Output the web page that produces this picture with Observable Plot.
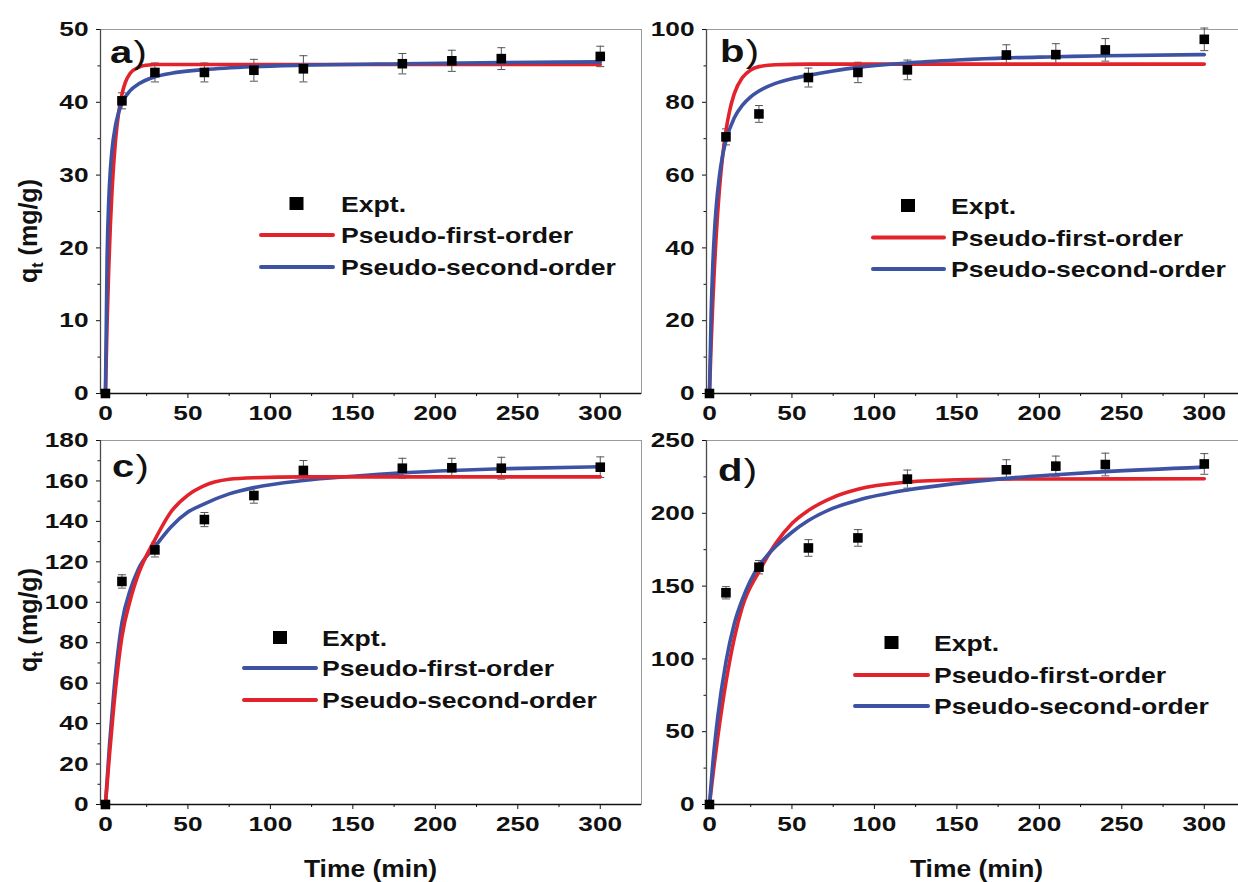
<!DOCTYPE html>
<html><head><meta charset="utf-8">
<script src="https://cdn.jsdelivr.net/npm/d3@7"></script>
<script src="https://cdn.jsdelivr.net/npm/@observablehq/plot@0.6"></script>
<style>
html,body{margin:0;padding:0;background:#fff;}
#chart{position:relative;width:1238px;height:882px;overflow:hidden;background:#fff;}
#chart svg{position:absolute;}
</style></head><body><div id="chart"></div>
<script>
// ---------- data ----------
const times = [0, 10, 30, 60, 90, 120, 180, 210, 240, 300];

const expA = [0, 40.2, 44.1, 44.1, 44.4, 44.6, 45.3, 45.7, 46.0, 46.3];
const errA = [0, 1.1, 1.3, 1.3, 1.5, 1.8, 1.4, 1.45, 1.5, 1.4];
const expB = [0, 70.5, 76.8, 86.8, 88.2, 88.9, 93.0, 93.1, 94.4, 97.3];
const errB = [0, 2.2, 2.3, 2.6, 2.8, 2.7, 2.8, 3.0, 3.1, 3.1];
const expC = [0, 110.3, 125.9, 140.9, 152.8, 165.2, 166.3, 166.5, 166.3, 166.8];
const errC = [0, 3.3, 3.5, 3.5, 3.8, 4.9, 4.9, 4.7, 5.4, 5.1];
const expD = [0, 145.4, 163.0, 176.2, 183.1, 223.5, 229.9, 232.4, 233.5, 233.9];
const errD = [0, 4.2, 4.6, 5.7, 5.7, 6.2, 6.9, 6.9, 7.8, 7.1];

// fitted curves (time, value)
const aRedT  = [0, 1, 2, 3, 4, 6, 8, 10, 12, 15, 20, 25, 30, 40, 60, 100, 150, 200, 250, 300];
const aRedQ  = [0, 9.6, 17.2, 23.2, 27.9, 34.5, 38.6, 41.1, 42.7, 44.0, 44.8, 45.1, 45.2, 45.2, 45.2, 45.2, 45.2, 45.2, 45.2, 45.2];
const aBlueT = [0, 1, 2, 3, 4, 6, 8, 10, 15, 20, 30, 40, 60, 90, 120, 180, 240, 300];
const aBlueQ = [0, 18.6, 26.5, 30.8, 33.5, 36.7, 38.6, 39.9, 41.6, 42.5, 43.5, 44.0, 44.5, 44.9, 45.1, 45.3, 45.45, 45.55];

const bRedT  = [0, 1, 2, 3, 4, 6, 8, 10, 12, 15, 20, 25, 30, 40, 60, 100, 200, 300];
const bRedQ  = [0, 13.4, 24.8, 34.5, 42.8, 55.9, 65.3, 72.2, 77.2, 82.3, 86.8, 88.9, 89.8, 90.3, 90.5, 90.5, 90.5, 90.5];
const bBlueT = [0, 1, 2, 3, 4, 6, 8, 10, 15, 20, 25, 30, 40, 50, 60, 75, 90, 120, 150, 180, 210, 240, 300];
const bBlueQ = [0, 21.6, 35.1, 44.2, 50.8, 59.7, 65.5, 69.5, 75.7, 79.2, 81.5, 83.1, 85.2, 86.5, 87.4, 88.6, 89.6, 90.8, 91.6, 92.2, 92.5, 92.8, 93.1];

const cRedT  = [0, 2.5, 5, 10, 15, 20, 30, 40, 50, 60, 75, 90, 120, 200, 300];
const cRedQ  = [0, 25, 48, 83, 101, 114, 131, 145, 153, 157.7, 160.8, 161.6, 162, 162, 162];
const cBlueT = [0, 2.5, 5, 10, 15, 20, 30, 40, 50, 60, 75, 90, 120, 150, 180, 210, 240, 300];
const cBlueQ = [0, 30, 55, 90, 106, 116.5, 127.5, 137.5, 144.6, 148.7, 153.6, 156.7, 160.2, 162.3, 164, 165.2, 166, 167];

const dRedT  = [0, 2.5, 5, 10, 15, 20, 30, 40, 50, 60, 75, 90, 120, 150, 200, 300];
const dRedQ  = [0, 24, 46, 84, 114, 136, 160, 179, 193, 202, 211, 216.5, 221.4, 223, 223.6, 223.7];
const dBlueT = [0, 2.5, 5, 10, 15, 20, 30, 35, 40, 50, 60, 75, 90, 120, 150, 175, 210, 240, 300];
const dBlueQ = [0, 34, 60, 98, 124, 141, 164, 171, 177, 187, 195, 203.5, 209, 216, 220.5, 223.5, 226.5, 228.6, 231.7];

// axes
const xTicks = [0, 50, 100, 150, 200, 250, 300];
const xMinorTicks = [25, 75, 125, 175, 225, 275];
const yTicksA = [0, 10, 20, 30, 40, 50];
const yMinorA = [5, 15, 25, 35, 45];
const yTicksB = [0, 20, 40, 60, 80, 100];
const yMinorB = [10, 30, 50, 70, 90];
const yTicksC = [0, 20, 40, 60, 80, 100, 120, 140, 160, 180];
const yMinorC = [10, 30, 50, 70, 90, 110, 130, 150, 170];
const yTicksD = [0, 50, 100, 150, 200, 250];
const yMinorD = [25, 75, 125, 175, 225];
const xRangeAC = [-3, 325];
const xRangeBD = [-1.8, 326.2];
const yRangeA = [0, 50];
const yRangeB = [0, 100];
const yRangeC = [0, 180];
const yRangeD = [0, 250];

// texts
const panelLetters = ["a", "b", "c", "d"];
const legendExpt = "Expt.";
const legendPFO = "Pseudo-first-order";
const legendPSO = "Pseudo-second-order";
const xTitle = "Time (min)";
const yTitleMain = "q";
const yTitleSub = "t";
const yTitleUnit = " (mg/g)";

// ---------- drawing ----------
const RED = "#e3232b";
const BLUE = "#3d52a2";
const FONT = "'Liberation Sans', Arial, Helvetica, sans-serif";
const TEXT_STRETCH = 1.25;
const chart = document.getElementById("chart");

const capSymbol = {
  draw(context, size) {
    const r = Math.sqrt(size / Math.PI);
    context.moveTo(-r, 0);
    context.lineTo(r, 0);
  }
};

function toRows(ts, qs) { return ts.map((t, i) => ({t, q: qs[i]})); }

function panel(cfg) {
  const pts = times.map((t, i) => ({t, q: cfg.exp[i], e: cfg.err[i]}));
  const bars = pts.filter(d => d.e > 0);
  const marks = [
    Plot.frame({stroke: "#9a9a9a", strokeWidth: 1}),
    Plot.axisX({ticks: xTicks, tickSize: 5, tickPadding: 7, label: null}),
    Plot.axisX({ticks: xMinorTicks, tickSize: 3, tickFormat: () => "", label: null}),
    Plot.axisY({ticks: cfg.yTicks, tickSize: 4, tickPadding: 8, label: null}),
    Plot.axisY({ticks: cfg.yMinor, tickSize: 2.5, tickFormat: () => "", label: null}),
    Plot.ruleY([cfg.yDomain[0]], {stroke: "#111", strokeWidth: 1.6}),
    Plot.ruleX([cfg.xDomain[0]], {stroke: "#4a4a4a", strokeWidth: 1.3}),
    Plot.ruleX(bars, {x: "t", y1: d => d.q - d.e, y2: d => d.q + d.e, stroke: "#555", strokeWidth: 1}),
    Plot.dot(bars, {x: "t", y: d => d.q - d.e, symbol: capSymbol, r: 4, stroke: "#555", strokeWidth: 1, fill: "none"}),
    Plot.dot(bars, {x: "t", y: d => d.q + d.e, symbol: capSymbol, r: 4, stroke: "#555", strokeWidth: 1, fill: "none"}),
    ...cfg.curves.map(c => Plot.line(toRows(c.t, c.q), {x: "t", y: "q", stroke: c.color, strokeWidth: 3.6, curve: "monotone-x"})),
    Plot.dot(pts, {x: "t", y: "q", symbol: "square", r: 5.4, fill: "#000"})
  ];
  const svg = Plot.plot({
    width: 643, height: cfg.height,
    marginLeft: 100, marginRight: 2, marginTop: 29, marginBottom: cfg.marginBottom,
    x: {domain: cfg.xDomain, label: null},
    y: {domain: cfg.yDomain, label: null},
    style: {fontFamily: FONT, fontSize: "21px", fontWeight: "bold", color: "#111", background: "transparent", overflow: "visible"},
    marks
  });
  svg.style.left = cfg.left + "px";
  svg.style.top = cfg.top + "px";
  d3.select(svg).selectAll("text").each(function() {
    const tr = this.getAttribute("transform") || "";
    this.setAttribute("transform", tr + ` scale(${TEXT_STRETCH},1)`);
  });
  chart.append(svg);
}

panel({left: 0, top: 0, height: 433, marginBottom: 40, xDomain: xRangeAC, yDomain: yRangeA,
  yTicks: yTicksA, yMinor: yMinorA, exp: expA, err: errA,
  curves: [{t: aRedT, q: aRedQ, color: RED}, {t: aBlueT, q: aBlueQ, color: BLUE}]});
panel({left: 606.3, top: 0, height: 433, marginBottom: 40, xDomain: xRangeBD, yDomain: yRangeB,
  yTicks: yTicksB, yMinor: yMinorB, exp: expB, err: errB,
  curves: [{t: bRedT, q: bRedQ, color: RED}, {t: bBlueT, q: bBlueQ, color: BLUE}]});
panel({left: 0, top: 411, height: 471, marginBottom: 78, xDomain: xRangeAC, yDomain: yRangeC,
  yTicks: yTicksC, yMinor: yMinorC, exp: expC, err: errC,
  curves: [{t: cBlueT, q: cBlueQ, color: BLUE}, {t: cRedT, q: cRedQ, color: RED}]});
panel({left: 606.3, top: 411, height: 471, marginBottom: 78, xDomain: xRangeBD, yDomain: yRangeD,
  yTicks: yTicksD, yMinor: yMinorD, exp: expD, err: errD,
  curves: [{t: dRedT, q: dRedQ, color: RED}, {t: dBlueT, q: dBlueQ, color: BLUE}]});

// ---------- overlay: legends, panel letters, axis titles ----------
const ov = d3.create("svg").attr("width", 1238).attr("height", 882)
  .style("left", "0px").style("top", "0px")
  .attr("font-family", FONT).attr("font-weight", "bold").attr("fill", "#111");

function stretchedText(x, y, str, size, sx, anchor) {
  return ov.append("g").attr("transform", `translate(${x},${y}) scale(${sx},1)`)
    .append("text").attr("font-size", size).attr("text-anchor", anchor || "start").text(str);
}

function legend(L) {
  ov.append("rect").attr("x", L.sqX - 7).attr("y", L.rows[0] - 6.5).attr("width", 14).attr("height", 13).attr("fill", "#000");
  stretchedText(L.textX, L.rows[0] + 8, legendExpt, 22, 1.21);
  L.lines.forEach((ln, i) => {
    const y = L.rows[i + 1];
    ov.append("line").attr("x1", L.x1).attr("x2", L.x2).attr("y1", y).attr("y2", y)
      .attr("stroke", ln.color).attr("stroke-width", 4).attr("stroke-linecap", "round");
    stretchedText(L.textX, y + 8, ln.label, 22, 1.21);
  });
}
legend({sqX: 296.5, x1: 261, x2: 333, textX: 341, rows: [203.5, 235, 267],
  lines: [{color: RED, label: legendPFO}, {color: BLUE, label: legendPSO}]});
legend({sqX: 908, x1: 873, x2: 944, textX: 951, rows: [205.5, 237.5, 269],
  lines: [{color: RED, label: legendPFO}, {color: BLUE, label: legendPSO}]});
legend({sqX: 280, x1: 244, x2: 316, textX: 322, rows: [637.5, 668, 700],
  lines: [{color: BLUE, label: legendPFO}, {color: RED, label: legendPSO}]});
legend({sqX: 891.5, x1: 855, x2: 928, textX: 934, rows: [642.5, 675, 706],
  lines: [{color: RED, label: legendPFO}, {color: BLUE, label: legendPSO}]});

// panel letters
[[110, 63], [720, 62], [112, 477], [718, 481]].forEach(([x, y], i) => {
  const t = ov.append("g").attr("transform", `translate(${x},${y}) scale(1.25,1)`)
    .append("text").attr("font-size", 32);
  t.append("tspan").text(panelLetters[i]);
  t.append("tspan").attr("font-weight", 400).attr("dx", 1).text(")");
});

// x titles
stretchedText(370.5, 877, xTitle, 23, 1.15, "middle");
stretchedText(976.5, 877, xTitle, 23, 1.15, "middle");

// y titles
[231, 620].forEach(cy => {
  const t = ov.append("text").attr("transform", `translate(37,${cy}) rotate(-90)`)
    .attr("font-size", 25).attr("text-anchor", "middle");
  t.append("tspan").text(yTitleMain);
  t.append("tspan").attr("font-size", 16).attr("dy", 6).text(yTitleSub);
  t.append("tspan").attr("dy", -6).text(yTitleUnit);
});

chart.append(ov.node());
</script></body></html>
